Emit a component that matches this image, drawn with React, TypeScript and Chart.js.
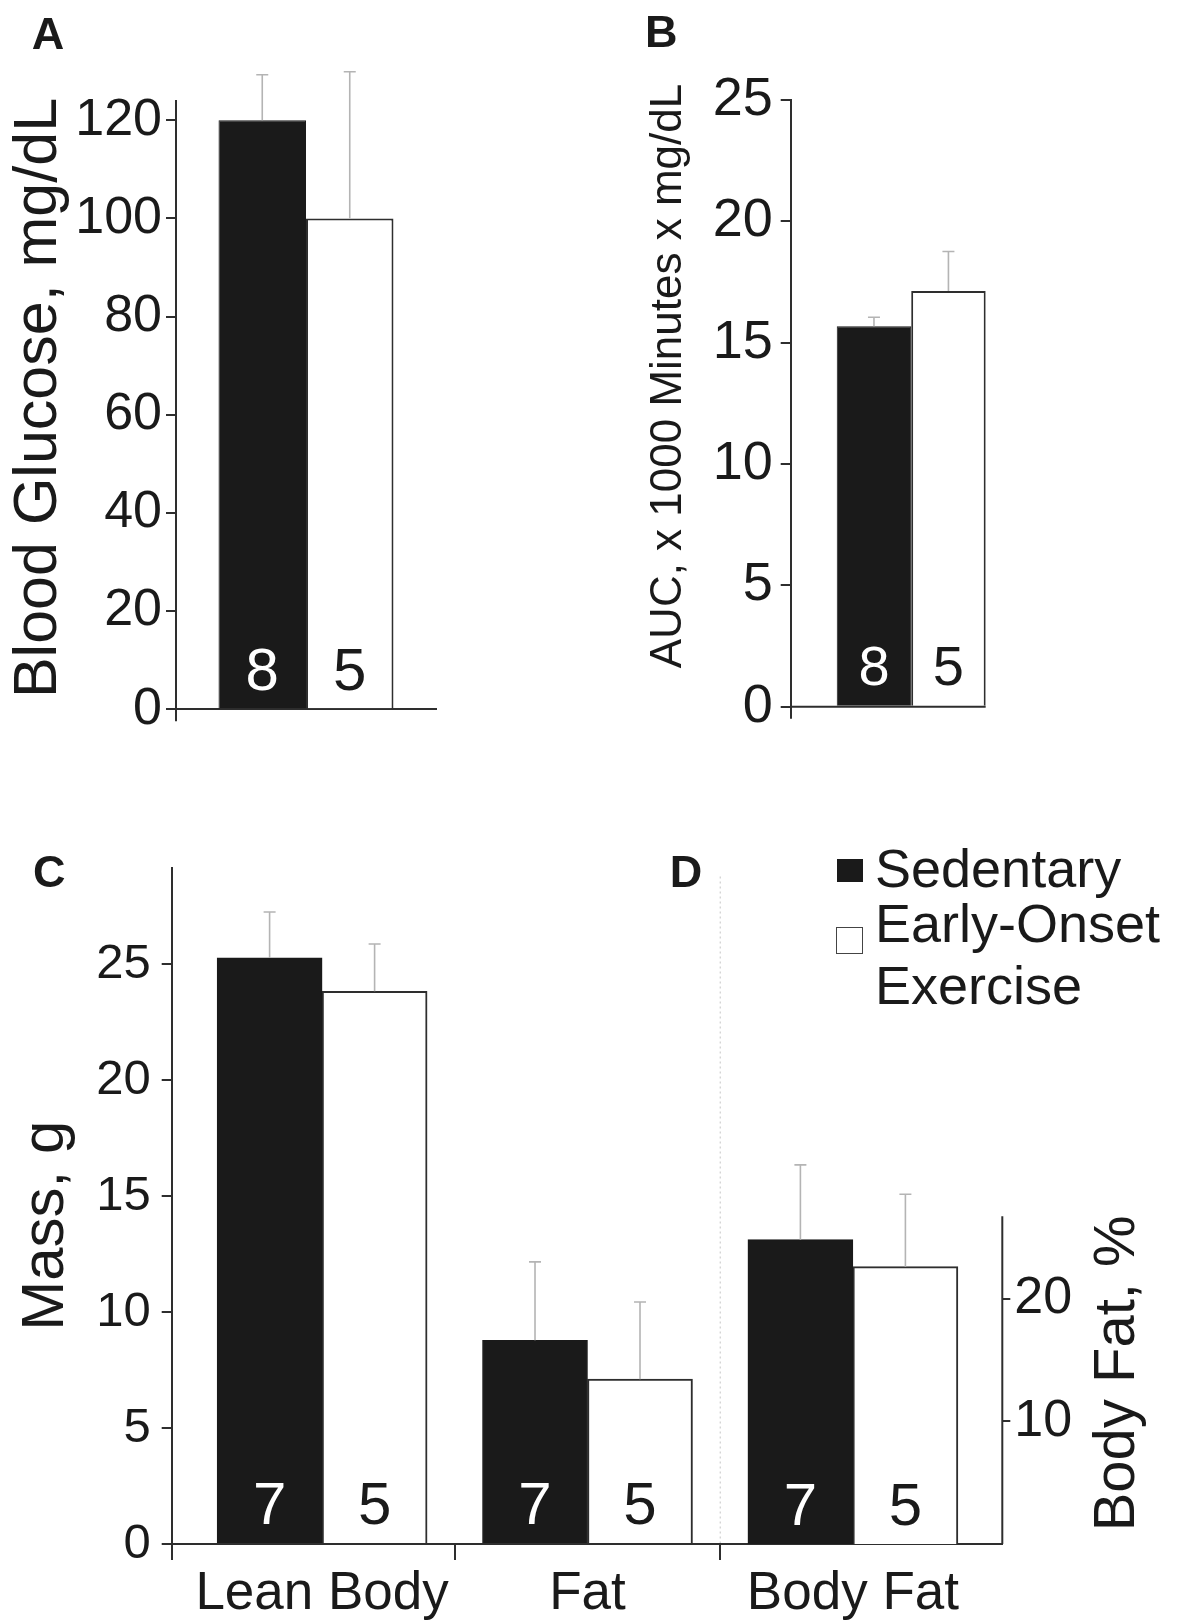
import React, { useEffect, useRef } from 'react';
import { Chart, registerables } from 'chart.js';

Chart.register(...registerables);

const FONT = '"Liberation Sans", Arial, Helvetica, sans-serif';
const INK = '#1a1a1a';
const AXIS = '#2e2e2e';
const ERR = '#b4b4b4';
const CLEAR = 'rgba(0,0,0,0)';

Chart.defaults.font.family = FONT;
Chart.defaults.color = INK;

// ---------- data ----------
const groupNames = ['Sedentary', 'Early-Onset Exercise'];

// Panel A: blood glucose
const glucoseCategory = ['Blood Glucose'];
const glucoseSedentary = [120];
const glucoseSedentaryErr = [9.3];
const glucoseExercise = [100];
const glucoseExerciseErr = [29.9];
const glucoseN = [8, 5];
const glucoseTicks = [0, 20, 40, 60, 80, 100, 120];

// Panel B: AUC
const aucCategory = ['AUC'];
const aucSedentary = [15.68];
const aucSedentaryErr = [0.37];
const aucExercise = [17.13];
const aucExerciseErr = [1.63];
const aucN = [8, 5];
const aucTicks = [0, 5, 10, 15, 20, 25];

// Panel C: mass
const massCategories = ['Lean Body', 'Fat'];
const massSedentary = [25.28, 8.79];
const massSedentaryErr = [1.98, 3.38];
const massExercise = [23.84, 7.11];
const massExerciseErr = [2.04, 3.33];
const massSedentaryN = [7, 7];
const massExerciseN = [5, 5];
const massTicks = [0, 5, 10, 15, 20, 25];

// Panel D: body fat %
const bodyFatCategory = ['Body Fat'];
const bodyFatSedentary = [24.8];
const bodyFatSedentaryErr = [6.1];
const bodyFatExercise = [22.6];
const bodyFatExerciseErr = [5.9];
const bodyFatSedentaryN = [7];
const bodyFatExerciseN = [5];
const bodyFatTicks = [10, 20];

// ---------- helpers ----------
const valueOf = (raw: any): number | null => {
  if (raw == null) return null;
  if (typeof raw === 'number') return raw;
  return raw.y == null ? null : raw.y;
};

function errorsAndCounts(
  errors: (number | null)[][],
  counts: (number | null)[][],
  countColors: string[],
  countSize: number,
  countLift: number
) {
  return {
    id: 'errorsAndCounts',
    afterDatasetsDraw(chart: any) {
      const ctx = chart.ctx;
      ctx.save();
      chart.data.datasets.forEach((ds: any, di: number) => {
        const meta = chart.getDatasetMeta(di);
        const yScale = chart.scales[meta.yAxisID];
        meta.data.forEach((el: any, i: number) => {
          const v = valueOf(ds.data[i]);
          if (v == null) return;
          const e = errors[di] ? errors[di][i] : null;
          if (e != null) {
            const yTop = yScale.getPixelForValue(v + e);
            ctx.strokeStyle = ERR;
            ctx.lineWidth = 1.6;
            ctx.setLineDash([]);
            ctx.beginPath();
            ctx.moveTo(el.x, el.y);
            ctx.lineTo(el.x, yTop);
            ctx.moveTo(el.x - 6, yTop);
            ctx.lineTo(el.x + 6, yTop);
            ctx.stroke();
          }
          const n = counts[di] ? counts[di][i] : null;
          if (n != null) {
            ctx.fillStyle = countColors[di];
            ctx.font = `${countSize}px ${FONT}`;
            ctx.textAlign = 'center';
            ctx.textBaseline = 'alphabetic';
            ctx.fillText(String(n), el.x, el.base - countLift);
          }
        });
      });
      ctx.restore();
    },
  };
}

type SideTitle = { text: string; x: number; y: number; size: number };
function sideTitles(items: SideTitle[]) {
  return {
    id: 'sideTitles',
    afterDraw(chart: any) {
      const ctx = chart.ctx;
      items.forEach((t) => {
        ctx.save();
        ctx.translate(t.x, t.y);
        ctx.rotate(-Math.PI / 2);
        ctx.font = `${t.size}px ${FONT}`;
        ctx.fillStyle = INK;
        ctx.textAlign = 'center';
        ctx.textBaseline = 'alphabetic';
        ctx.fillText(t.text, 0, 0);
        ctx.restore();
      });
    },
  };
}

const barStyle = [
  { backgroundColor: INK, borderColor: INK, borderWidth: 1 },
  { backgroundColor: '#ffffff', borderColor: AXIS, borderWidth: 2 },
];

const firstTickOnly = (c: any) => (c.index === 0 ? AXIS : CLEAR);

// ---------- Panel A ----------
function makeA(): any {
  return {
    type: 'bar',
    data: {
      labels: glucoseCategory,
      datasets: [
        { label: groupNames[0], data: glucoseSedentary, ...barStyle[0] },
        { label: groupNames[1], data: glucoseExercise, ...barStyle[1] },
      ],
    },
    options: {
      responsive: false,
      animation: false,
      events: [],
      layout: { padding: { left: 0, top: 100.7, right: 34, bottom: 50.7 } },
      datasets: { bar: { categoryPercentage: 0.673, barPercentage: 1 } },
      plugins: { legend: { display: false }, tooltip: { enabled: false } },
      scales: {
        x: {
          type: 'category',
          offset: true,
          ticks: { display: false },
          grid: { offset: true, drawOnChartArea: false, drawTicks: true, tickLength: 12, lineWidth: 2, tickWidth: 2, tickColor: firstTickOnly, color: CLEAR },
          border: { display: true, color: AXIS, width: 2 },
          afterFit: (s: any) => { s.height = 20; },
        },
        y: {
          min: 0,
          max: 124,
          afterBuildTicks: (s: any) => { s.ticks = glucoseTicks.map((v) => ({ value: v })); },
          ticks: { font: { size: 52 }, color: INK, padding: 4 },
          grid: { drawOnChartArea: false, tickLength: 10, lineWidth: 2, tickColor: AXIS, color: AXIS },
          border: { display: true, color: AXIS, width: 2 },
          afterFit: (s: any) => { s.width = 176; },
        },
      },
    },
    plugins: [
      errorsAndCounts([glucoseSedentaryErr, glucoseExerciseErr], [[glucoseN[0]], [glucoseN[1]]], ['#ffffff', INK], 60, 18),
      sideTitles([{ text: 'Blood Glucose, mg/dL', x: 56, y: 398, size: 61 }]),
    ],
  };
}

// ---------- Panel B ----------
function makeB(): any {
  return {
    type: 'bar',
    data: {
      labels: aucCategory,
      datasets: [
        { label: groupNames[0], data: aucSedentary, ...barStyle[0] },
        { label: groupNames[1], data: aucExercise, ...barStyle[1] },
      ],
    },
    options: {
      responsive: false,
      animation: false,
      events: [],
      layout: { padding: { left: 0, top: 100, right: 153.3, bottom: 53.3 } },
      datasets: { bar: { categoryPercentage: 0.618, barPercentage: 1 } },
      plugins: { legend: { display: false }, tooltip: { enabled: false } },
      scales: {
        x: {
          type: 'category',
          offset: true,
          ticks: { display: false },
          grid: { offset: true, drawOnChartArea: false, drawTicks: true, tickLength: 12, lineWidth: 2, tickWidth: 2, tickColor: firstTickOnly, color: CLEAR },
          border: { display: false },
          afterFit: (s: any) => { s.height = 20; },
        },
        y: {
          min: 0,
          max: 25,
          afterBuildTicks: (s: any) => { s.ticks = aucTicks.map((v) => ({ value: v })); },
          ticks: { font: { size: 54 }, color: INK, padding: 8 },
          grid: { drawOnChartArea: false, tickLength: 10, lineWidth: 2, tickColor: AXIS, color: AXIS },
          border: { display: true, color: AXIS, width: 2 },
          afterFit: (s: any) => { s.width = 190.7; },
        },
      },
    },
    plugins: [
      {
        id: 'baselineB',
        afterDatasetsDraw(chart: any) {
          const { ctx, chartArea } = chart;
          const meta = chart.getDatasetMeta(chart.data.datasets.length - 1);
          const last = meta.data[meta.data.length - 1];
          const y0 = chart.scales.y.getPixelForValue(0);
          ctx.save();
          ctx.strokeStyle = AXIS;
          ctx.lineWidth = 2;
          ctx.beginPath();
          ctx.moveTo(chartArea.left, y0);
          ctx.lineTo(last.x + last.width / 2, y0);
          ctx.stroke();
          ctx.restore();
        },
      },
      errorsAndCounts([aucSedentaryErr, aucExerciseErr], [[aucN[0]], [aucN[1]]], ['#ffffff', INK], 56, 21),
      sideTitles([{ text: 'AUC, x 1000 Minutes x mg/dL', x: 81, y: 376, size: 44 }]),
    ],
  };
}

// ---------- Panels C + D ----------
const allCategories = [...massCategories, ...bodyFatCategory];
const nMass = massCategories.length;
const xMin = -0.5667;
const xMax = 2.5629;
const bodyFatAxisTop = 26.7;

function makeCD(): any {
  const massData = (vals: number[]) => allCategories.map((_, i) => ({ x: i, y: i < nMass ? vals[i] : null }));
  const fatData = (vals: number[]) => allCategories.map((_, i) => ({ x: i, y: i >= nMass ? vals[i - nMass] : null }));
  const pad = (a: number[], before: boolean) =>
    before ? [...massCategories.map(() => null), ...a] : [...a, ...bodyFatCategory.map(() => null)];
  const xTicks = [xMin, ...allCategories.flatMap((_, i) => (i < allCategories.length - 1 ? [i, i + 0.5] : [i]))];
  return {
    type: 'bar',
    data: {
      datasets: [
        { label: groupNames[0], data: massData(massSedentary), yAxisID: 'y', ...barStyle[0] },
        { label: groupNames[1], data: massData(massExercise), yAxisID: 'y', ...barStyle[1] },
        { label: groupNames[0] + ' (body fat %)', data: fatData(bodyFatSedentary), yAxisID: 'y2', ...barStyle[0] },
        { label: groupNames[1] + ' (body fat %)', data: fatData(bodyFatExercise), yAxisID: 'y2', ...barStyle[1] },
      ],
    },
    options: {
      responsive: false,
      animation: false,
      events: [],
      layout: { padding: { left: 0, top: 47.5, right: 0, bottom: 0 } },
      datasets: { bar: { barThickness: 105, skipNull: true } },
      plugins: { legend: { display: false }, tooltip: { enabled: false } },
      scales: {
        x: {
          type: 'linear',
          min: xMin,
          max: xMax,
          offset: false,
          afterBuildTicks: (s: any) => { s.ticks = xTicks.map((v) => ({ value: v })); },
          ticks: {
            autoSkip: false,
            maxRotation: 0,
            minRotation: 0,
            font: { size: 53 },
            color: INK,
            padding: 3,
            callback: (v: number) => (Number.isInteger(v) ? allCategories[v] : ''),
          },
          grid: {
            offset: false,
            drawOnChartArea: false,
            drawTicks: true,
            tickLength: 16,
            lineWidth: 2,
            tickWidth: 2,
            color: CLEAR,
            tickColor: (c: any) => (c.tick && !Number.isInteger(c.tick.value) ? AXIS : CLEAR),
          },
          border: { display: true, color: AXIS, width: 2 },
          afterFit: (s: any) => { s.height = 78; },
        },
        y: {
          position: 'left',
          min: 0,
          max: 29.18,
          afterBuildTicks: (s: any) => { s.ticks = massTicks.map((v) => ({ value: v })); },
          ticks: { font: { size: 49 }, color: INK, padding: 11 },
          grid: { drawOnChartArea: false, tickLength: 10, lineWidth: 2, tickColor: AXIS, color: AXIS },
          border: { display: true, color: AXIS, width: 2 },
          afterFit: (s: any) => { s.width = 171.7; },
        },
        y2: {
          position: 'right',
          min: 0,
          max: 55.13,
          afterBuildTicks: (s: any) => { s.ticks = bodyFatTicks.map((v) => ({ value: v })); },
          ticks: { font: { size: 52 }, color: INK, padding: 4 },
          grid: { drawOnChartArea: false, tickLength: 8, lineWidth: 2, tickColor: AXIS, color: AXIS },
          border: { display: false },
          afterFit: (s: any) => { s.width = 182.7; },
        },
      },
    },
    plugins: [
      {
        id: 'cdLines',
        afterDatasetsDraw(chart: any) {
          const { ctx, chartArea, scales } = chart;
          ctx.save();
          ctx.strokeStyle = AXIS;
          ctx.lineWidth = 2;
          ctx.beginPath();
          ctx.moveTo(chartArea.right, scales.y2.getPixelForValue(0));
          ctx.lineTo(chartArea.right, scales.y2.getPixelForValue(bodyFatAxisTop));
          ctx.stroke();
          const sx = scales.x.getPixelForValue(nMass - 0.5);
          ctx.strokeStyle = '#c4c4c4';
          ctx.lineWidth = 1;
          ctx.setLineDash([2, 3]);
          ctx.beginPath();
          ctx.moveTo(sx, chartArea.top + 9);
          ctx.lineTo(sx, chartArea.bottom - 1);
          ctx.stroke();
          ctx.restore();
        },
      },
      errorsAndCounts(
        [pad(massSedentaryErr, false), pad(massExerciseErr, false), pad(bodyFatSedentaryErr, true), pad(bodyFatExerciseErr, true)],
        [pad(massSedentaryN, false), pad(massExerciseN, false), pad(bodyFatSedentaryN, true), pad(bodyFatExerciseN, true)],
        ['#ffffff', INK, '#ffffff', INK],
        60,
        19
      ),
      sideTitles([
        { text: 'Mass, g', x: 63, y: 405.7, size: 60 },
        { text: 'Body Fat, %', x: 1134, y: 553.4, size: 58 },
      ]),
    ],
  };
}

// ---------- components ----------
function ChartBox(props: { left: number; top: number; width: number; height: number; make: () => any }) {
  const ref = useRef<HTMLCanvasElement | null>(null);
  const { left, top, width, height, make } = props;
  useEffect(() => {
    if (!ref.current) return;
    const chart = new Chart(ref.current, make());
    return () => chart.destroy();
  }, [make]);
  return (
    <canvas
      ref={ref}
      width={width}
      height={height}
      style={{ position: 'absolute', left, top, width, height }}
    />
  );
}

const letter = (left: number, top: number): React.CSSProperties => ({
  position: 'absolute',
  left,
  top,
  font: `bold 45px ${FONT}`,
  lineHeight: '45px',
  color: INK,
  margin: 0,
  whiteSpace: 'nowrap',
});

const legendText = (top: number): React.CSSProperties => ({
  position: 'absolute',
  left: 875,
  top,
  font: `54px ${FONT}`,
  lineHeight: '54px',
  color: INK,
  whiteSpace: 'nowrap',
});

export default function App() {
  const exerciseWords = groupNames[1].split(' ');
  return (
    <div
      style={{
        position: 'absolute',
        left: 0,
        top: 0,
        width: 1185,
        height: 1622,
        background: '#ffffff',
        overflow: 'hidden',
      }}
    >
      <ChartBox left={0} top={0} width={470} height={780} make={makeA} />
      <ChartBox left={600} top={0} width={585} height={780} make={makeB} />
      <ChartBox left={0} top={820} width={1185} height={802} make={makeCD} />

      <div style={letter(31.7, 10.8)}>A</div>
      <div style={letter(645, 8.5)}>B</div>
      <div style={letter(33, 849.3)}>C</div>
      <div style={letter(669.7, 848.6)}>D</div>

      <div
        style={{ position: 'absolute', left: 837.4, top: 859.3, width: 26, height: 22.4, background: INK }}
      />
      <div
        style={{
          position: 'absolute',
          left: 836.4,
          top: 926.7,
          width: 27,
          height: 27.3,
          background: '#ffffff',
          border: '1.5px solid #444',
          boxSizing: 'border-box',
        }}
      />
      <div style={legendText(841)}>{groupNames[0]}</div>
      <div style={legendText(896)}>{exerciseWords[0]}</div>
      <div style={legendText(957.6)}>{exerciseWords.slice(1).join(' ')}</div>
    </div>
  );
}
